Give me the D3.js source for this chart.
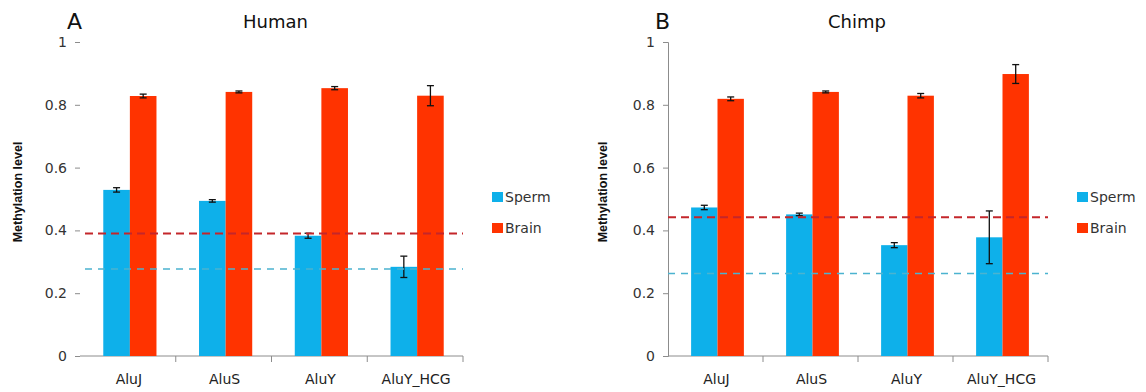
<!DOCTYPE html>
<html>
<head>
<meta charset="utf-8">
<script src="https://cdn.jsdelivr.net/npm/d3@7"></script>
<style>
  body { margin: 0; background: #fff; }
  svg { display: block; font-family: "DejaVu Sans", Lato, sans-serif; }
</style>
</head>
<body>
<div id="chart"></div>
<script>
// kategori dan nilai
var categories = ["AluJ", "AluS", "AluY", "AluY_HCG"];
var seriesNames = ["Sperm", "Brain"];
var yTicks = [0, 0.2, 0.4, 0.6, 0.8, 1];

var humanSperm = [0.529, 0.494, 0.383, 0.284];
var humanSpermErr = [0.007, 0.004, 0.008, 0.034];
var humanBrain = [0.828, 0.841, 0.853, 0.829];
var humanBrainErr = [0.006, 0.003, 0.005, 0.032];
var humanBaseline = [0.277, 0.390]; // sperm, brain

var chimpSperm = [0.473, 0.451, 0.353, 0.378];
var chimpSpermErr = [0.007, 0.004, 0.008, 0.084];
var chimpBrain = [0.819, 0.841, 0.829, 0.898];
var chimpBrainErr = [0.006, 0.003, 0.007, 0.030];
var chimpBaseline = [0.263, 0.442];

var colors = { Sperm: "#0eb0ea", Brain: "#ff3300" };
var lineColors = { Sperm: "#4bb3d0", Brain: "#c4262b" };

var svg = d3.select("#chart").append("svg")
    .attr("width", 1146)
    .attr("height", 392);

function drawPanel(opt) {
    var g = svg.append("g");

    var x = d3.scaleBand()
        .domain(categories)
        .range([opt.left, opt.right])
        .padding(0);
    var x1 = d3.scaleBand()
        .domain(seriesNames)
        .range([0, x.bandwidth()])
        .paddingInner(0)
        .paddingOuter(0.8);
    var y = d3.scaleLinear()
        .domain([0, 1])
        .range([356, 42]);

    // sumbu y
    var yAxis = g.append("g")
        .attr("transform", "translate(" + opt.left + ",0)")
        .call(d3.axisLeft(y).tickValues(yTicks).tickSize(5).tickPadding(8)
            .tickFormat(function (d) { return d === 0 || d === 1 ? d : d.toFixed(1); }));
    yAxis.select(".domain").attr("stroke", opt.yLine ? "#8c8c8c" : "none");
    yAxis.selectAll(".tick line").attr("stroke", "#8c8c8c");
    yAxis.selectAll(".tick text")
        .attr("fill", "#333")
        .style("font-size", "14px")
        .style("font-family", "'DejaVu Sans', sans-serif");

    // sumbu x
    var xAxis = g.append("g")
        .attr("transform", "translate(0,356)");
    xAxis.append("line")
        .attr("x1", opt.left).attr("x2", opt.right)
        .attr("stroke", "#8c8c8c");
    xAxis.selectAll(".sep")
        .data(categories)
        .enter().append("line")
        .attr("x1", function (d) { return x(d) + x.bandwidth(); })
        .attr("x2", function (d) { return x(d) + x.bandwidth(); })
        .attr("y1", 0).attr("y2", 6)
        .attr("stroke", "#8c8c8c");
    xAxis.selectAll(".lab")
        .data(categories)
        .enter().append("text")
        .attr("x", function (d) { return x(d) + x.bandwidth() / 2 + 1; })
        .attr("y", 28)
        .attr("text-anchor", "middle")
        .attr("fill", "#222")
        .style("font-size", "14px")
        .text(function (d) { return d; });

    // batang
    var rows = categories.map(function (c, i) {
        return {
            cat: c,
            vals: [
                { s: "Sperm", v: opt.sperm[i], e: opt.spermErr[i] },
                { s: "Brain", v: opt.brain[i], e: opt.brainErr[i] }
            ]
        };
    });
    var grp = g.selectAll(".grp")
        .data(rows)
        .enter().append("g")
        .attr("transform", function (d) { return "translate(" + (x(d.cat) + 2) + ",0)"; });
    grp.selectAll("rect")
        .data(function (d) { return d.vals; })
        .enter().append("rect")
        .attr("x", function (d) { return x1(d.s); })
        .attr("width", x1.bandwidth())
        .attr("y", function (d) { return y(d.v); })
        .attr("height", function (d) { return y(0) - y(d.v); })
        .attr("fill", function (d) { return colors[d.s]; });

    // error bar
    var eb = grp.selectAll(".eb")
        .data(function (d) { return d.vals; })
        .enter().append("g")
        .attr("stroke", "#111")
        .attr("stroke-width", 1.3);
    var cx = function (d) { return x1(d.s) + x1.bandwidth() / 2; };
    eb.append("line")
        .attr("x1", cx).attr("x2", cx)
        .attr("y1", function (d) { return y(d.v + d.e); })
        .attr("y2", function (d) { return y(d.v - d.e); });
    eb.append("line")
        .attr("x1", function (d) { return cx(d) - 3.5; })
        .attr("x2", function (d) { return cx(d) + 3.5; })
        .attr("y1", function (d) { return y(d.v + d.e); })
        .attr("y2", function (d) { return y(d.v + d.e); });
    eb.append("line")
        .attr("x1", function (d) { return cx(d) - 3.5; })
        .attr("x2", function (d) { return cx(d) + 3.5; })
        .attr("y1", function (d) { return y(d.v - d.e); })
        .attr("y2", function (d) { return y(d.v - d.e); });

    // garis putus-putus
    g.selectAll(".base")
        .data([
            { s: "Sperm", v: opt.baseline[0] },
            { s: "Brain", v: opt.baseline[1] }
        ])
        .enter().append("line")
        .attr("x1", opt.left + opt.dashStart)
        .attr("x2", opt.right)
        .attr("y1", function (d) { return y(d.v); })
        .attr("y2", function (d) { return y(d.v); })
        .attr("stroke", function (d) { return lineColors[d.s]; })
        .attr("stroke-width", function (d) { return d.s === "Brain" ? 2 : 1.5; })
        .attr("stroke-dasharray", function (d) { return d.s === "Brain" ? "8,5" : "7,6"; });

    // legenda
    var leg = g.selectAll(".leg")
        .data(seriesNames)
        .enter().append("g")
        .attr("transform", function (d, i) {
            return "translate(" + opt.legendX + "," + (192 + i * 31) + ")";
        });
    leg.append("rect")
        .attr("width", 11).attr("height", 10)
        .attr("fill", function (d) { return colors[d]; });
    leg.append("text")
        .attr("x", 13).attr("y", 10)
        .attr("fill", "#333")
        .style("font-size", "14px")
        .text(function (d) { return d; });

    // judul
    g.append("text")
        .attr("x", opt.letterX).attr("y", 29)
        .style("font-size", "22px")
        .attr("fill", "#111")
        .text(opt.letter);
    g.append("text")
        .attr("x", (opt.left + opt.right) / 2 + opt.titleShift).attr("y", 28)
        .attr("text-anchor", "middle")
        .style("font-size", "18px")
        .attr("fill", "#111")
        .text(opt.title);

    // label sumbu y
    g.append("text")
        .attr("transform", "translate(" + opt.yLabelX + ",192) rotate(-90)")
        .attr("text-anchor", "middle")
        .style("font-size", "12.5px")
        .style("font-weight", "bold")
        .style("font-family", "'Liberation Sans', Arial, sans-serif")
        .attr("fill", "#111")
        .text("Methylation level");
}

drawPanel({
    left: 80, right: 463, yLine: false, dashStart: 5,
    sperm: humanSperm, spermErr: humanSpermErr,
    brain: humanBrain, brainErr: humanBrainErr,
    baseline: humanBaseline,
    legendX: 492, letter: "A", letterX: 67, title: "Human", titleShift: 4,
    yLabelX: 22
});

drawPanel({
    left: 668, right: 1048, yLine: true, dashStart: 0,
    sperm: chimpSperm, spermErr: chimpSpermErr,
    brain: chimpBrain, brainErr: chimpBrainErr,
    baseline: chimpBaseline,
    legendX: 1077, letter: "B", letterX: 655, title: "Chimp", titleShift: -1,
    yLabelX: 607
});
</script>
</body>
</html>
